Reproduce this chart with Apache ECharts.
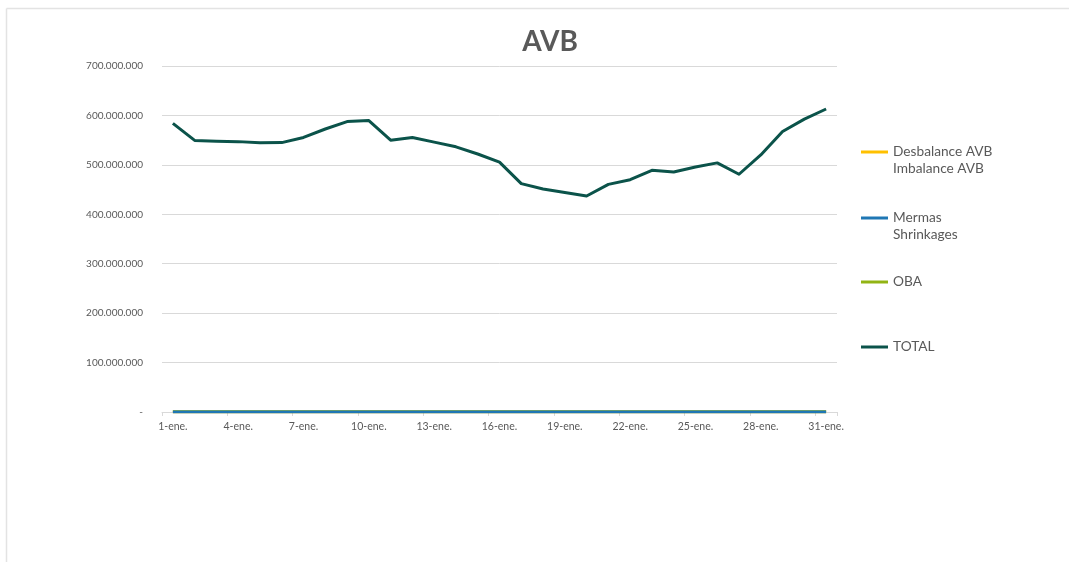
<!DOCTYPE html>
<html>
<head>
<meta charset="utf-8">
<script src="https://cdn.jsdelivr.net/npm/echarts@6/dist/echarts.min.js"></script>
<style>
html,body{margin:0;padding:0;background:#fff;}
#c{width:1069px;height:562px;}
</style>
</head>
<body>
<div id="c"></div>
<script>
var categories = [];
var days = [1,2,3,4,5,6,7,8,9,10,11,12,13,14,15,16,17,18,19,20,21,22,23,24,25,26,27,28,29,30,31];
days.forEach(function(d){ categories.push(d + '-ene.'); });

var desbalance = [0,0,0,0,0,0,0,0,0,0,0,0,0,0,0,0,0,0,0,0,0,0,0,0,0,0,0,0,0,0,0];
var mermas = [0,0,0,0,0,0,0,0,0,0,0,0,0,0,0,0,0,0,0,0,0,0,0,0,0,0,0,0,0,0,0];
var oba = [1500000,1500000,1500000,1500000,1500000,1500000,1500000,1500000,1500000,1500000,1500000,1500000,1500000,1500000,1500000,1500000,1500000,1500000,1500000,1500000,1500000,1500000,1500000,1500000,1500000,1500000,1500000,1500000,1500000,1500000,1500000];
var total = [584000000,549500000,548000000,547000000,544800000,545000000,555500000,572500000,587500000,589500000,550000000,555500000,546000000,536500000,522000000,505500000,462000000,451000000,444000000,437000000,460500000,470000000,489000000,485500000,495500000,504000000,481000000,520000000,567500000,592500000,613000000];

var seriesNames = ['Desbalance AVB\nImbalance AVB', 'Mermas\nShrinkages', 'OBA', 'TOTAL'];
var colors = ['#FFC000', '#1F77B4', '#92B414', '#0B534A'];
var yTicks = [0,100000000,200000000,300000000,400000000,500000000,600000000,700000000];

function fmt(v){
  if (v === 0) return '-';
  return String(Math.round(v)).replace(/\B(?=(\d{3})+(?!\d))/g, '.');
}

var chart = echarts.init(document.getElementById('c'));
var font = 'Lato, "Open Sans", sans-serif';
var legendLineY = [152, 218, 282, 347];
var legends = seriesNames.map(function(n, i){
  var multi = n.indexOf('\n') >= 0;
  return {
    orient: 'vertical',
    left: 856,
    top: legendLineY[i] - 5 - (multi ? 25.5 : 8.5),
    data: [n],
    icon: 'rect',
    itemWidth: 27,
    itemHeight: 3,
    itemGap: 0,
    selectedMode: false,
    formatter: function(name){ return name.indexOf('\n') >= 0 ? ' \n' + name : name; },
    textStyle: {
      color: '#595959',
      fontSize: 13.7,
      fontFamily: font,
      lineHeight: 17
    }
  };
});
var dataArr = [desbalance, mermas, oba, total];
var zs = [2, 4, 3, 5];
var widths = [3, 3, 2, 3];
var series = seriesNames.map(function(n, i){
  return {
    name: n,
    type: 'line',
    data: dataArr[i],
    symbol: 'none',
    z: zs[i],
    lineStyle: {color: colors[i], width: widths[i], join: 'round'},
    itemStyle: {color: colors[i]},
    animation: false
  };
});

chart.setOption({
  animation: false,
  backgroundColor: '#fff',
  title: {
    text: 'AVB',
    left: 545,
    textAlign: 'center',
    top: 23,
    textStyle: {color: '#595959', fontSize: 28, fontWeight: 'bold', fontFamily: font}
  },
  legend: legends,
  grid: {left: 162, right: 232, top: 66, bottom: 150, containLabel: false},
  xAxis: {
    type: 'category',
    data: categories,
    boundaryGap: true,
    axisLine: {lineStyle: {color: '#d9d9d9', width: 1}},
    axisTick: {show: true, interval: 2, length: 4, lineStyle: {color: '#d9d9d9'}},
    axisLabel: {interval: 2, color: '#595959', fontSize: 10.5, fontFamily: font, margin: 9}
  },
  yAxis: {
    type: 'value',
    min: 0,
    max: 700000000,
    interval: 100000000,
    axisLine: {show: false},
    axisTick: {show: false},
    splitLine: {lineStyle: {color: '#d9d9d9', width: 1}},
    axisLabel: {color: '#595959', fontSize: 10, fontFamily: font, margin: 19,
      formatter: function(v){ return fmt(v); }}
  },
  graphic: [
    {type: 'line', shape: {x1: 6.5, y1: 8.5, x2: 1069, y2: 8.5}, style: {stroke: '#e3e3e3', lineWidth: 1.5}, silent: true},
    {type: 'line', shape: {x1: 6.5, y1: 8.5, x2: 6.5, y2: 562}, style: {stroke: '#e3e3e3', lineWidth: 1.5}, silent: true}
  ],
  series: series
});
</script>
</body>
</html>
